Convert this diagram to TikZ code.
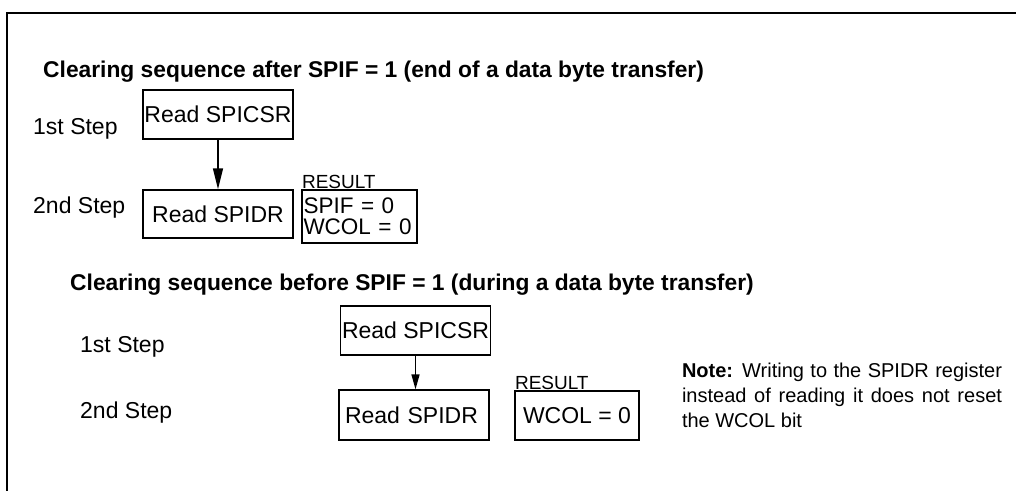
\documentclass[tikz,border=0pt]{standalone}
\usepackage{fontspec}
\setmainfont{Liberation Sans}
\usetikzlibrary{arrows.meta,positioning}

\begin{document}
\begin{tikzpicture}[x=1pt, y=-1pt,
  font=\fontsize{23}{27}\selectfont,
  box/.style={draw, line width=1.3pt, inner sep=0pt, minimum width=#1, minimum height=49pt, align=center},
  box/.default=150pt,
  ttl/.style={font=\fontsize{22.8}{27}\selectfont\bfseries, anchor=west, inner sep=0pt},
  steplab/.style={anchor=west, inner sep=0pt},
  lab/.style={font=\fontsize{19}{21}\selectfont, inner sep=0.5pt},
  note/.style={font=\fontsize{20}{25}\selectfont, text width=320pt, align=justify, inner sep=0pt},
  arr/.style={-{Triangle[#1]}, line width=1.5pt}
]
\useasboundingbox (0,0) rectangle (1016,491);
% frame
\draw[line width=2pt] (1016,13) -- (7,13) -- (7,491);
% sequence after SPIF = 1
\node[ttl] (title1) at (43,72) {Clearing sequence after SPIF = 1 (end of a data byte transfer)};
\node[steplab] (s1a) at (33,129) {1st Step};
\node[steplab] (s2a) at (33,208) {2nd Step};
\node[box] (csr1) at (218,114.5) {Read SPICSR};
\node[box, minimum height=48pt] (dr1) at (218,214) {Read SPIDR};
\draw[arr={length=21pt,width=10pt}] (csr1) -- (dr1);
\node[box=115pt, minimum height=53pt, text width=112pt, align=left, font=\fontsize{22.5}{21}\selectfont] (res1) at (359.5,216.5) {SPIF = 0\\WCOL = 0};
\node[lab, above right=0pt and 0pt of res1.north west] (rl1) {RESULT};
% sequence before SPIF = 1
\node[ttl] (title2) at (70,285) {Clearing sequence before SPIF = 1 (during a data byte transfer)};
\node[steplab] (s1b) at (80,347) {1st Step};
\node[steplab] (s2b) at (80,413) {2nd Step};
\node[box] (csr2) at (415.5,330.5) {Read SPICSR};
\node[box, text width=138pt, align=left, inner xsep=6pt, minimum height=50pt] (dr2) at (414,415) {Read SPIDR};
\draw[arr={length=15pt,width=8pt}] (csr2) -- (csr2 |- dr2.north);
\node[box=124pt] (res2) at (577,415.5) {WCOL = 0};
\node[lab, above right=0pt and 0pt of res2.north west] (rl2) {RESULT};
\node[note] (note) at (842,395) {\textbf{Note:} Writing to the SPIDR register instead of reading it does not reset the WCOL bit};
\end{tikzpicture}
\end{document}
